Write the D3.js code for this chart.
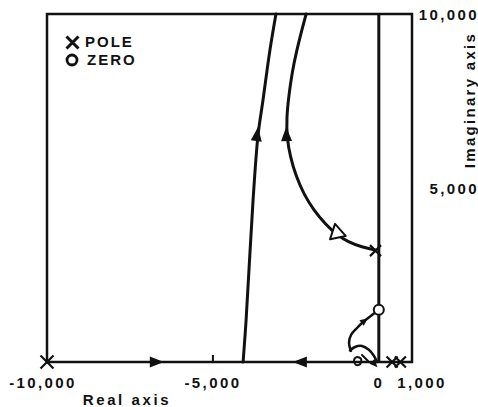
<!DOCTYPE html>
<html>
<head>
<meta charset="utf-8">
<script src="https://cdn.jsdelivr.net/npm/d3@7"></script>
<style>
  body { margin: 0; background: #fff; }
  svg text { font-family: "Liberation Sans", Arial, sans-serif; fill: #111; font-weight: bold; }
</style>
</head>
<body>
<script>
// chart values (real, imaginary) in s-plane units
const xTicks = [-10000, -5000, 0, 1000]
const xTickLabels = ['-10,000', '-5,000', '0', '1,000']
const yTicks = [10000, 5000]
const yTickLabels = ['10,000', '5,000']
const minorTicks = [-5000]

const poles = [[-10000, 0], [-100, 3200], [400, 0], [650, 0]]
const zeros = [[0, 1500]]

// left branch leaving the real axis
const branchLeft = [[-4090, 0], [-4000, 1200], [-3790, 4650], [-3640, 6520],
  [-3490, 7530], [-3280, 8970], [-3100, 10000]]
// branch from the complex pole
const branchRight = [[-115, 3220], [-506, 3300], [-928, 3450], [-1260, 3650],
  [-1600, 3950], [-1950, 4350], [-2250, 4800], [-2500, 5350], [-2670, 5900],
  [-2770, 6450], [-2780, 7000], [-2720, 7600], [-2610, 8350], [-2470, 8970],
  [-2320, 9540], [-2190, 10000]]
// small loop near the origin ending at the zero
const loopToZero = [[-840, 320], [-898, 546], [-838, 776], [-657, 977],
  [-476, 1150], [-205, 1350], [-84, 1437]]
const hood = [[-870, 330], [-720, 430], [-510, 460], [-300, 350], [-150, 180], [-54, 0]]
const curl = [[-747, 57], [-657, 144], [-536, 86], [-560, -57], [-687, -86]]
const curlMark = [[-506, 200], [-325, 30]]

// arrows: [tail, tip]
const solidArrows = [
  [[-7000, 0], [-6480, 0]],
  [[-2200, 0], [-2590, 0]],
  [[-3700, 6300], [-3640, 6750]],
  [[-2780, 6300], [-2790, 6750]]
]
const smallArrows = [
  [[-476, 1150], [-330, 1260]],
  [[-150, -40], [-40, -150]]
]
const hollowArrows = [[[-1230, 3560], [-1320, 3970]]]

const W = 478, H = 407

const x = d3.scaleLinear().domain([-10000, 1000]).range([47, 412])
const y = d3.scaleLinear().domain([0, 10000]).range([362, 14])

const svg = d3.select('body').append('svg')
  .attr('width', W)
  .attr('height', H)

const line = d3.line()
  .x(d => x(d[0]))
  .y(d => y(d[1]))
  .curve(d3.curveCatmullRom)

const smooth = d3.line()
  .x(d => x(d[0]))
  .y(d => y(d[1]))
  .curve(d3.curveBasis)

// frame + axes
const frame = svg.append('g')
  .attr('fill', 'none')
  .attr('stroke', '#111')
frame.append('rect')
  .attr('x', x(-10000))
  .attr('y', y(10000))
  .attr('width', x(1000) - x(-10000))
  .attr('height', y(0) - y(10000))
  .attr('stroke-width', 2.5)
frame.append('line')
  .attr('x1', x(0)).attr('x2', x(0))
  .attr('y1', y(0)).attr('y2', y(10000))
  .attr('stroke-width', 3)
frame.selectAll('.tick')
  .data(minorTicks)
  .enter().append('line')
  .attr('x1', d => x(d)).attr('x2', d => x(d))
  .attr('y1', y(0)).attr('y2', y(0) - 7)
  .attr('stroke-width', 2)

// loci
const loci = svg.append('g')
  .attr('fill', 'none')
  .attr('stroke', '#111')
  .attr('stroke-linecap', 'round')
loci.append('path').attr('d', line(branchLeft)).attr('stroke-width', 3)
loci.append('path').attr('d', smooth(branchRight)).attr('stroke-width', 3)
loci.append('path').attr('d', line(loopToZero)).attr('stroke-width', 2.5)
loci.append('path').attr('d', line(hood)).attr('stroke-width', 2.5)
loci.append('path')
  .attr('d', d3.line().x(d => x(d[0])).y(d => y(d[1])).curve(d3.curveCardinalClosed)(curl))
  .attr('stroke-width', 2)
loci.append('path').attr('d', line(curlMark)).attr('stroke-width', 2)

function arrowPath(a, len, half) {
  const x0 = x(a[0][0]), y0 = y(a[0][1])
  const x1 = x(a[1][0]), y1 = y(a[1][1])
  const ang = Math.atan2(y1 - y0, x1 - x0)
  const bx = x1 - len * Math.cos(ang), by = y1 - len * Math.sin(ang)
  const nx = -Math.sin(ang) * half, ny = Math.cos(ang) * half
  return `M${x1},${y1}L${bx + nx},${by + ny}L${bx - nx},${by - ny}Z`
}

svg.append('g').selectAll('path')
  .data(solidArrows)
  .enter().append('path')
  .attr('d', d => arrowPath(d, 14, 5.5))
  .attr('fill', '#111')

svg.append('g').selectAll('path')
  .data(smallArrows)
  .enter().append('path')
  .attr('d', d => arrowPath(d, 8, 3.5))
  .attr('fill', '#111')

svg.append('g').selectAll('path')
  .data(hollowArrows)
  .enter().append('path')
  .attr('d', d => arrowPath(d, 14, 8))
  .attr('fill', '#fff')
  .attr('stroke', '#111')
  .attr('stroke-width', 2)
  .attr('stroke-linejoin', 'round')

// poles and zeros
function cross(cx, cy, r) {
  return `M${cx - r},${cy - r}L${cx + r},${cy + r}M${cx - r},${cy + r}L${cx + r},${cy - r}`
}
svg.append('g').selectAll('path')
  .data(poles)
  .enter().append('path')
  .attr('d', d => cross(x(d[0]), y(d[1]), d[0] === -10000 ? 6.5 : 5.5))
  .attr('stroke', '#111')
  .attr('stroke-width', 2.2)
  .attr('fill', 'none')

svg.append('g').selectAll('circle')
  .data(zeros)
  .enter().append('circle')
  .attr('cx', d => x(d[0]))
  .attr('cy', d => y(d[1]))
  .attr('r', 5)
  .attr('fill', '#fff')
  .attr('stroke', '#111')
  .attr('stroke-width', 2)

// tick labels
svg.append('g').selectAll('text')
  .data(xTicks)
  .enter().append('text')
  .attr('x', d => x(d))
  .attr('dx', (d, i) => i === 3 ? 10 : (i === 0 ? -4 : 0))
  .attr('y', 388)
  .attr('text-anchor', 'middle')
  .attr('font-size', 15)
  .attr('letter-spacing', 2.4)
  .text((d, i) => xTickLabels[i])

svg.append('g').selectAll('text')
  .data(yTicks)
  .enter().append('text')
  .attr('x', 479)
  .attr('y', d => y(d) + 6)
  .attr('text-anchor', 'end')
  .attr('font-size', 15)
  .attr('letter-spacing', 2.4)
  .text((d, i) => yTickLabels[i])

svg.append('text')
  .attr('x', 127)
  .attr('y', 405)
  .attr('text-anchor', 'middle')
  .attr('font-size', 15)
  .attr('letter-spacing', 2.6)
  .text('Real axis')

svg.append('text')
  .attr('transform', 'translate(475,100) rotate(-90)')
  .attr('text-anchor', 'middle')
  .attr('font-size', 15)
  .attr('letter-spacing', 2.3)
  .text('Imaginary axis')

// legend
const legend = svg.append('g')
legend.append('path')
  .attr('d', cross(72.5, 42.5, 6))
  .attr('stroke', '#111')
  .attr('stroke-width', 3)
legend.append('circle')
  .attr('cx', 72).attr('cy', 60).attr('r', 5)
  .attr('fill', 'none')
  .attr('stroke', '#111')
  .attr('stroke-width', 2.8)
legend.append('text')
  .attr('x', 85).attr('y', 47)
  .attr('font-size', 15)
  .attr('letter-spacing', 2)
  .text('POLE')
legend.append('text')
  .attr('x', 87).attr('y', 65)
  .attr('font-size', 15)
  .attr('letter-spacing', 2)
  .text('ZERO')
</script>
</body>
</html>
